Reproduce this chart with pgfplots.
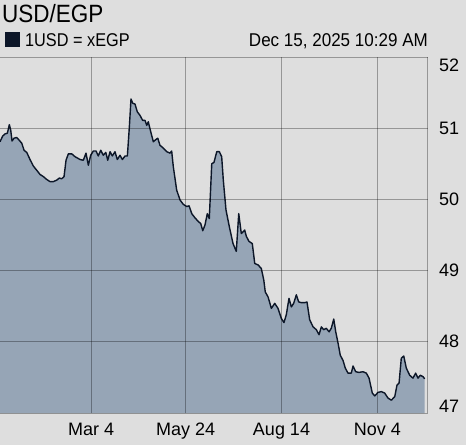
\documentclass[border=0pt]{standalone}
\usepackage{pgfplots}
\pgfplotsset{compat=1.18}
\usepackage{pgfplotstable}
\usepackage{fontspec}
\setmainfont{Liberation Sans}
\definecolor{bgc}{RGB}{222,222,222}
\definecolor{fillc}{RGB}{150,165,182}
\definecolor{linec}{RGB}{12,22,40}
\pgfplotstableread{
day value
-14.9 50.81
-12.6 50.89
-10.6 50.92
-8.6 50.93
-6.9 51.05
-5.7 50.97
-4.6 50.82
-2.9 50.86
-0.6 50.87
1.6 50.83
3.7 50.79
5.7 50.69
8.0 50.66
10.8 50.56
13.6 50.47
16.5 50.41
19.4 50.35
22.2 50.32
25.1 50.28
27.9 50.25
30.7 50.25
33.6 50.27
35.9 50.30
37.9 50.29
39.9 50.32
41.6 50.55
43.6 50.64
46.5 50.64
49.3 50.60
53.6 50.56
56.4 50.55
58.7 50.65
60.7 50.48
62.7 50.62
65.0 50.68
67.3 50.68
69.2 50.61
71.3 50.69
73.5 50.62
75.6 50.66
77.3 50.55
79.3 50.67
81.2 50.61
83.5 50.67
85.5 50.56
87.8 50.62
89.8 50.56
92.1 50.61
94.1 50.61
95.8 51.02
97.2 51.41
98.7 51.35
100.6 51.34
102.6 51.23
104.9 51.18
107.2 51.11
109.2 51.11
110.7 51.04
112.0 51.09
114.1 50.95
116.3 50.81
118.4 50.84
120.1 50.86
122.0 50.76
124.9 50.72
127.8 50.67
130.6 50.65
132.0 50.68
133.4 50.46
136.3 50.13
139.2 49.99
142.0 49.93
144.9 49.90
146.9 49.91
149.2 49.80
152.0 49.74
154.8 49.69
156.9 49.66
158.6 49.56
160.5 49.64
162.5 49.80
164.2 49.73
166.3 50.50
168.2 50.52
170.6 50.67
172.8 50.67
174.8 50.60
176.2 50.27
178.5 49.85
181.3 49.62
184.5 49.38
187.3 49.27
189.4 49.80
191.6 49.52
194.5 49.57
195.9 49.48
198.2 49.41
201.0 49.38
203.1 49.10
205.9 49.08
208.7 49.03
210.8 48.87
212.1 48.70
214.5 48.63
217.3 48.47
220.2 48.54
223.0 48.47
225.8 48.33
228.1 48.27
230.1 48.38
232.4 48.61
234.4 48.49
236.4 48.54
238.7 48.66
240.7 48.56
243.0 48.55
245.9 48.55
247.8 48.56
250.1 48.31
253.0 48.21
255.8 48.17
258.1 48.10
260.1 48.21
262.1 48.17
264.3 48.19
266.7 48.14
268.6 48.19
270.7 48.32
272.4 48.14
274.4 47.98
276.3 47.81
278.6 47.74
280.6 47.63
282.9 47.56
285.7 47.56
287.2 47.66
289.5 47.58
292.3 47.57
295.7 47.58
298.6 47.56
300.9 47.49
303.7 47.28
305.8 47.24
308.6 47.29
311.4 47.30
314.3 47.28
317.1 47.21
320.0 47.18
322.9 47.23
324.8 47.39
326.6 47.42
328.5 47.77
330.6 47.80
332.8 47.63
335.7 47.53
338.5 47.49
340.8 47.56
342.8 47.49
344.8 47.53
347.1 47.51
348.5 47.48
}\rates
\begin{document}
\begin{tikzpicture}[x=1pt,y=1pt]
\fill[bgc] (0,0) rectangle (466,445);
\useasboundingbox (0,0) rectangle (466,445);
\begin{axis}[
  at={(0pt,32pt)}, anchor=south west,
  scale only axis, width=427.7pt, height=356pt,
  xmin=-14.9, xmax=351.1, ymin=47, ymax=52,
  axis line style={draw=none},
  axis on top,
  xtick={63,144,226,308},
  xticklabels={Mar 4, May 24, Aug 14, Nov 4},
  extra x ticks={351.1}, extra x tick labels={},
  extra x tick style={grid=major},
  ytick={47,48,49,50,51,52},
  yticklabels={\raisebox{7pt}[\height][\depth]{47},48,49,50,51,\raisebox{-8pt}[\height][\depth]{52}},
  yticklabel pos=right,
  major tick length=0pt,
  grid=major,
  grid style={draw=black, opacity=0.32, line width=0.9pt},
  tick label style={font=\fontsize{18}{18}\selectfont},
  yticklabel style={anchor=west, xshift=8pt},
  xticklabel style={anchor=base, yshift=-22pt},
  clip=true,
]
\addplot[fill=fillc, draw=none] table[x=day,y=value] {\rates} \closedcycle;
\addplot[draw=linec, line width=1.4pt, line join=round] table[x=day,y=value] {\rates};
\end{axis}
\node[anchor=base west, inner sep=0pt, xscale=0.9, font=\fontsize{25}{25}\selectfont] at (2,422) {USD/EGP};
\fill[linec] (5,398) rectangle (20,413);
\node[anchor=base west, inner sep=0pt, xscale=0.88, font=\fontsize{18.5}{18.5}\selectfont] at (25,398) {1USD = xEGP};
\node[anchor=base east, inner sep=0pt, xscale=0.92, font=\fontsize{18.5}{18.5}\selectfont] at (428,398) {Dec 15, 2025 10:29 AM};
\end{tikzpicture}
\end{document}
